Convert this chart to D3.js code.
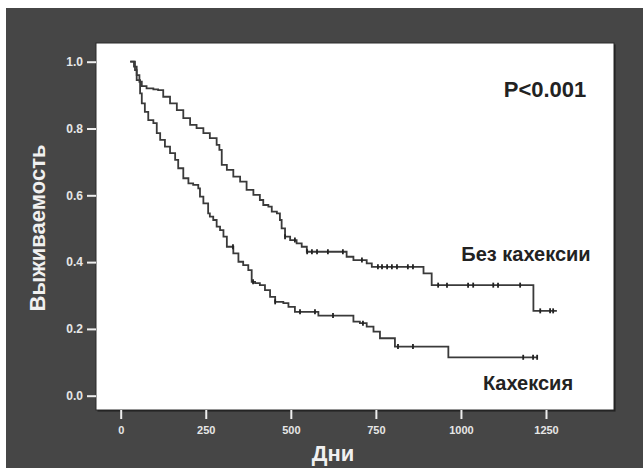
<!DOCTYPE html>
<html><head><meta charset="utf-8">
<script src="https://cdn.jsdelivr.net/npm/d3@7"></script>
<style>body{margin:0;background:#fff}svg{display:block}</style>
</head><body>
<svg id="c" width="643" height="468"></svg>
<script>
// Data
const xTicks = [0, 250, 500, 750, 1000, 1250];
const yTicks = [0.0, 0.2, 0.4, 0.6, 0.8, 1.0];
const noCachexiaDays = [28,39,47,55,62,76,96,110,125,145,165,184,204,223,243,262,282,290,297,312,331,351,370,390,409,419,434,444,459,468,473,483,498,517,532,547,664,684,723,738,890,914,1213,1282];
const noCachexiaSurv = [1.0,0.985,0.960,0.940,0.927,0.920,0.917,0.915,0.895,0.875,0.855,0.831,0.811,0.801,0.786,0.771,0.751,0.736,0.691,0.676,0.656,0.641,0.616,0.601,0.586,0.571,0.566,0.551,0.546,0.526,0.501,0.476,0.466,0.456,0.446,0.431,0.416,0.406,0.396,0.386,0.366,0.331,0.254,0.254];
const noCachexiaCensored = [483,512,548,562,577,609,653,709,756,768,783,797,812,844,859,933,959,1021,1036,1095,1109,1174,1233,1262,1271];
const cachexiaDays = [28,42,47,57,62,71,81,96,106,116,130,145,160,169,184,199,213,228,233,243,257,262,272,282,292,302,312,331,346,360,375,385,395,409,424,439,454,478,493,512,581,684,703,723,743,762,806,963,1224];
const cachexiaSurv = [1.0,0.975,0.945,0.905,0.875,0.850,0.825,0.816,0.786,0.766,0.746,0.726,0.706,0.681,0.651,0.636,0.631,0.621,0.596,0.576,0.546,0.536,0.526,0.506,0.496,0.476,0.446,0.426,0.401,0.391,0.376,0.341,0.337,0.331,0.316,0.296,0.281,0.277,0.266,0.251,0.240,0.222,0.217,0.207,0.192,0.172,0.147,0.115,0.115];
const cachexiaCensored = [330,389,454,527,571,624,712,815,859,1183,1212,1224];
const labels = {p: "P<0.001", upper: "Без кахексии", lower: "Кахексия", x: "Дни", y: "Выживаемость"};

const svg = d3.select("#c");
const font = "Arial, 'Liberation Sans', sans-serif";
svg.append("rect").attr("x",6).attr("y",8).attr("width",637).attr("height",460).attr("fill","#464646");

const x = d3.scaleLinear().domain([0,1250]).range([120.7,546]);
const y = d3.scaleLinear().domain([0,1]).range([395.7,61.7]);
const plot = {l:96, t:43, r:614, b:410};

// shadow + plot box
svg.append("rect").attr("x",plot.l+1.5).attr("y",plot.t+1.5).attr("width",plot.r-plot.l).attr("height",plot.b-plot.t).attr("fill","#1e1e1e");
svg.append("rect").attr("x",plot.l).attr("y",plot.t).attr("width",plot.r-plot.l).attr("height",plot.b-plot.t).attr("fill","#fff").attr("stroke","#2a2a2a").attr("stroke-width",1);

// axes
const yAxis = d3.axisLeft(y).tickValues(yTicks).tickFormat(d3.format(".1f")).tickSize(9).tickPadding(4);
const gy = svg.append("g").attr("transform",`translate(${plot.l},0)`).call(yAxis);
const xAxis = d3.axisBottom(x).tickValues(xTicks).tickFormat(d3.format("d")).tickSize(9).tickPadding(7);
const gx = svg.append("g").attr("transform",`translate(0,${plot.b})`).call(xAxis);
[gx,gy].forEach(g=>{
  g.select(".domain").remove();
  g.selectAll(".tick line").attr("stroke","#eee").attr("stroke-width",2);
  g.selectAll(".tick text").attr("fill","#e6e6e6").attr("font-family",font).attr("font-weight","bold").attr("font-size",12);
});
gx.selectAll(".tick text").attr("font-size",11);

// step curves
const line = d3.line().x(d=>x(d[0])).y(d=>y(d[1])).curve(d3.curveStepAfter);
function survAt(days, surv, t){ let s = surv[0]; for(let i=0;i<days.length;i++){ if(days[i]<=t) s = surv[i]; } return s; }
function drawCurve(days, surv, cens){
  const pts = days.map((d,i)=>[d,surv[i]]);
  svg.append("path").datum(pts).attr("d",line).attr("fill","none").attr("stroke","#3a3a3a").attr("stroke-width",1.8);
  svg.append("g").selectAll("line").data(cens).join("line")
    .attr("x1",d=>x(d)).attr("x2",d=>x(d))
    .attr("y1",d=>y(survAt(days,surv,d))-2.5).attr("y2",d=>y(survAt(days,surv,d))+2.5)
    .attr("stroke","#222").attr("stroke-width",1.8);
}
drawCurve(noCachexiaDays, noCachexiaSurv, noCachexiaCensored);
drawCurve(cachexiaDays, cachexiaSurv, cachexiaCensored);

// texts
svg.append("text").attr("x",545).attr("y",97).attr("text-anchor","middle").attr("font-family",font).attr("font-weight","bold").attr("font-size",22).attr("fill","#222").text(labels.p);
svg.append("text").attr("x",526).attr("y",261).attr("text-anchor","middle").attr("font-family",font).attr("font-weight","bold").attr("font-size",20).attr("fill","#222").text(labels.upper);
svg.append("text").attr("x",528).attr("y",390).attr("text-anchor","middle").attr("font-family",font).attr("font-weight","bold").attr("font-size",20).attr("fill","#222").text(labels.lower);
svg.append("text").attr("x",333).attr("y",461).attr("text-anchor","middle").attr("font-family",font).attr("font-weight","bold").attr("font-size",22).attr("fill","#f0f0f0").text(labels.x);
svg.append("text").attr("transform","translate(45,228) rotate(-90)").attr("text-anchor","middle").attr("font-family",font).attr("font-weight","bold").attr("font-size",22).attr("fill","#f0f0f0").text(labels.y);
</script>
</body></html>
